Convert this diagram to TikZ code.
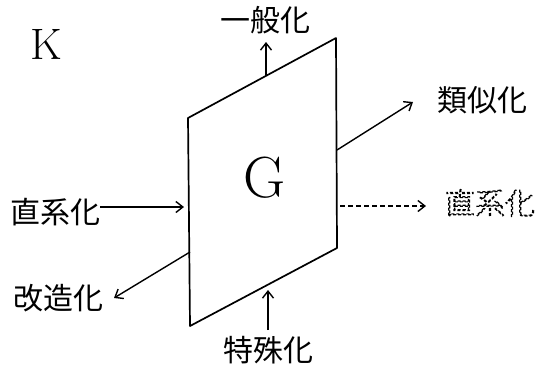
\documentclass[tikz,border=0pt]{standalone}
\usepackage{fontspec}
\newfontfamily\cjk{Noto Sans CJK JP}[Scale=1]
\newfontfamily\cjkthin{Noto Sans CJK JP Thin}
\usetikzlibrary{arrows.meta}
\begin{document}
\begin{tikzpicture}[x=1pt,y=-1pt,
  edge/.style={line width=1.7pt},
  arr/.style={line width=1.4pt,-{Straight Barb[length=7pt,width=11pt,line width=1.4pt]}},
  lbl/.style={font=\cjk\fontsize{30}{32}\selectfont, inner sep=0pt}]
\useasboundingbox (0,0) rectangle (548,368);
% parallelogram
\coordinate (tl) at (188,118);
\coordinate (tr) at (336,38);
\coordinate (br) at (337,248);
\coordinate (bl) at (190,326);
\draw[edge, line join=round] (tl) -- (tr) -- (br) -- (bl) -- cycle;
\node (K) at (46,44) {\fontsize{44}{46}\selectfont K};
\node (G) at (265,178) {\fontsize{58}{60}\selectfont G};
% labels
\node[lbl] (gen) at (265,20) {一般化};
\node[lbl] (spe) at (268,350) {特殊化};
\node[lbl] (ana) at (482,100) {類似化};
\node[lbl] (mod) at (58,298) {改造化};
\node[lbl] (lin) at (55,212) {直系化};
\node[lbl, font=\cjkthin\fontsize{30}{32}\selectfont] (lin2) at (490,203) {\special{pdf:code 1 Tr 1.2 w [3 2] 0 d}直系化\special{pdf:code 0 Tr [] 0 d}};
% connector anchor points
\coordinate (p1) at (266,76);
\coordinate (p1t) at (266,42);
\coordinate (p2) at (268,330);
\coordinate (p2t) at (268,290);
\coordinate (p3) at (337,150);
\coordinate (p3t) at (413,102);
\coordinate (p4) at (190,252);
\coordinate (p4t) at (114,298);
\coordinate (p5) at (100,207);
\coordinate (p5t) at (184,207);
\coordinate (p6) at (340,206);
\coordinate (p6t) at (426,206);
\draw[arr] (p1) -- (p1t);
\draw[arr] (p2) -- (p2t);
\draw[arr] (p3) -- (p3t);
\draw[arr] (p4) -- (p4t);
\draw[arr] (p5) -- (p5t);
\draw[arr, line width=1.1pt, dash pattern=on 5pt off 3pt] (p6) -- (p6t);
\end{tikzpicture}
\end{document}
